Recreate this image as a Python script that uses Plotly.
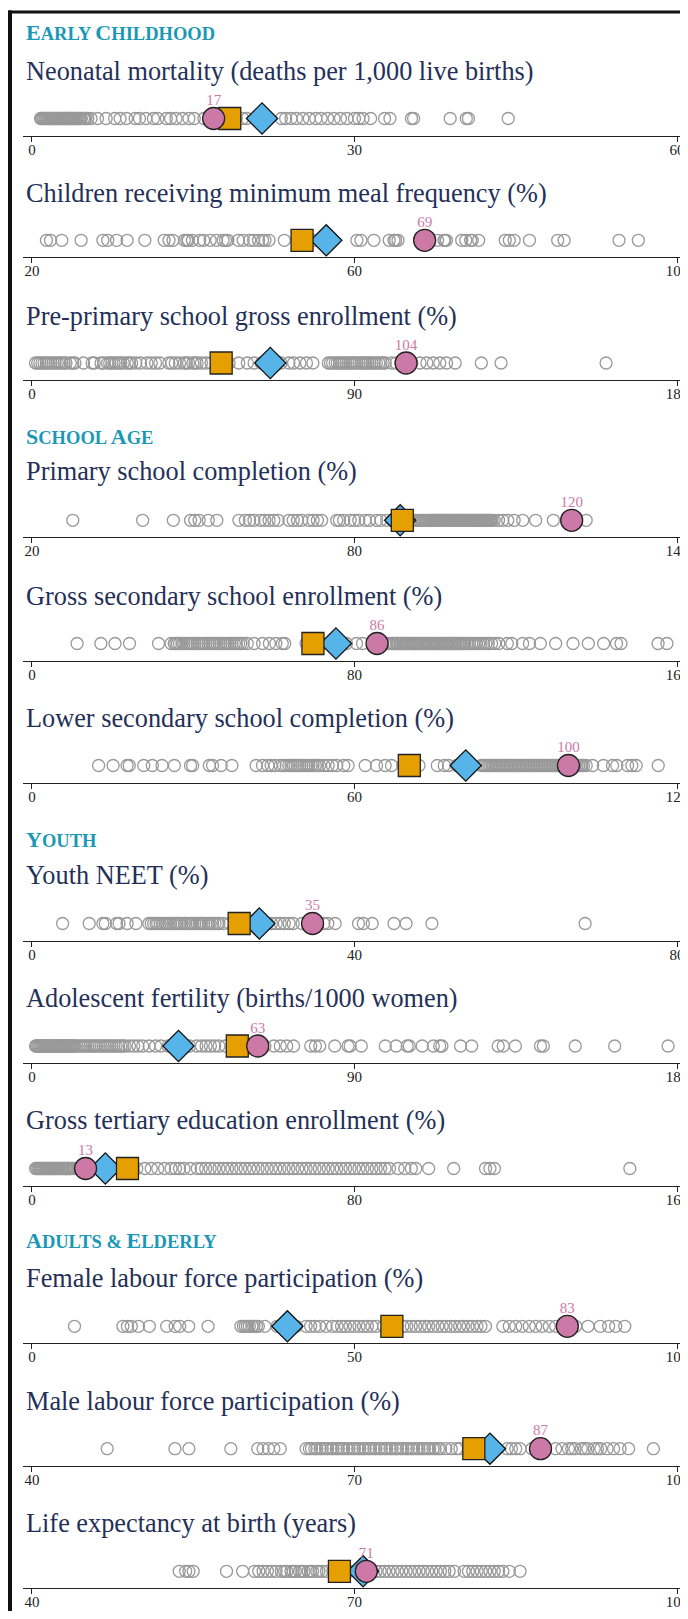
import plotly.graph_objects as go

W, H = 680, 1603

# ---------------- data ----------------
titles = [
    "Neonatal mortality (deaths per 1,000 live births)",
    "Children receiving minimum meal frequency (%)",
    "Pre-primary school gross enrollment (%)",
    "Primary school completion (%)",
    "Gross secondary school enrollment (%)",
    "Lower secondary school completion (%)",
    "Youth NEET (%)",
    "Adolescent fertility (births/1000 women)",
    "Gross tertiary education enrollment (%)",
    "Female labour force participation (%)",
    "Male labour force participation (%)",
    "Life expectancy at birth (years)",
]
sections = ["EARLY CHILDHOOD", "SCHOOL AGE", "YOUTH", "ADULTS & ELDERLY"]

axis_min = [0, 20, 0, 20, 0, 0, 0, 0, 0, 0, 40, 40]
axis_max = [60, 100, 180, 140, 160, 120, 80, 180, 160, 100, 100, 100]

neonatal = [0.8, 0.9, 1.0, 1.1, 1.2, 1.3, 1.4, 1.5, 1.6, 1.7, 1.8, 1.9, 2.0, 2.1, 2.2, 2.3, 2.4, 2.5, 2.6, 2.7,
            2.8, 2.9, 3.0, 3.1, 3.2, 3.3, 3.4, 3.5, 3.6, 3.7, 3.8, 3.9, 4.0, 4.1, 4.2, 4.3, 4.4, 4.5, 4.6, 4.8,
            4.9, 5.0, 5.2, 5.5, 6.1, 6.9, 7.7, 8.2, 8.8, 9.6, 10.0, 10.6, 11.3, 11.7, 12.5, 12.9,
            13.4, 14.0, 14.6, 15.1, 16.0, 17.5, 18.2, 19.0, 19.6, 20.0, 22.0, 23.2, 23.6, 24.1, 24.6, 25.2, 25.8,
            26.4, 26.9, 27.5, 28.1, 28.7, 29.3, 30.0, 30.4, 30.8, 31.5, 32.8, 33.3, 35.3, 35.5, 38.9, 40.4, 40.6, 44.3]
meal = [21.8, 22.3, 23.7, 26.1, 28.8, 29.4, 30.5, 31.8, 34.0, 36.4, 37.0, 37.5, 38.9, 39.2, 39.4, 39.9, 40.8,
        41.3, 42.1, 42.9, 43.7, 44.0, 44.3, 45.6, 46.2, 47.0, 47.5, 48.1, 48.6, 48.9, 49.4, 51.3, 53.0, 55.0,
        60.3, 60.8, 62.4, 64.3, 64.9, 65.1, 65.4, 70.3, 71.1, 71.2, 71.4, 73.3, 73.8, 74.4, 74.6, 75.4, 78.7,
        79.2, 79.8, 81.7, 85.2, 86.0, 92.8, 95.2]
preprimary = [1.0, 1.6, 2.2, 2.8, 3.4, 4.0, 4.6, 5.3, 5.9, 6.5, 7.1, 7.7, 8.3, 9.0, 9.5, 10.7, 11.4, 12.0, 14.4,
              16.8, 17.4, 19.3, 20.0, 21.1, 21.7, 22.3, 22.9, 23.5, 24.2, 24.8, 25.5, 26.6, 27.2, 27.8, 29.0, 30.3,
              32.1, 33.3, 34.5, 35.7, 38.2, 39.0, 40.0, 41.2, 42.5, 43.1, 43.7, 44.9, 45.5, 46.1, 47.3, 48.6, 50.0,
              55.0, 57.7, 60.1, 62.0, 64.0, 69.5, 71.7, 73.0, 74.8, 76.6, 78.4, 82.7, 83.3, 83.9, 84.6, 85.2, 85.8,
              86.4, 87.0, 87.6, 88.2, 88.8, 89.4, 90.0, 90.6, 91.3, 92.0, 92.5, 93.1, 93.7, 94.3, 94.9, 95.5, 96.1,
              96.8, 97.4, 98.0, 98.6, 100.4, 101.6, 103.0, 106.0, 108.3, 110.2, 112.0, 113.8, 115.7, 118.1, 125.4,
              130.9, 160.2]
primary = [27.6, 40.6, 46.3, 49.5, 50.3, 51.1, 52.8, 54.4, 58.5, 59.7, 60.5, 61.3, 62.5, 63.3, 64.1, 65.0, 65.8,
           67.8, 68.6, 69.4, 70.2, 71.5, 72.3, 73.1, 73.9, 76.7, 77.2, 78.0, 79.2, 80.0, 80.8, 82.0, 82.8, 84.1,
           84.9, 86.0, 87.0, 88.0, 89.5, 90.3, 90.6, 91.0, 91.3, 91.6, 91.9, 92.2, 92.5, 92.8, 93.1, 93.4, 93.7,
           94.0, 94.3, 94.6, 94.8, 95.0, 95.2, 95.4, 95.6, 95.8, 96.0, 96.3, 96.5, 96.7, 96.9, 97.1, 97.3, 97.5,
           97.7, 97.9, 98.1, 98.3, 98.5, 98.7, 98.9, 99.1, 99.3, 99.5, 99.7, 99.9, 100.1, 100.3, 100.5, 100.7,
           100.9, 101.1, 101.3, 101.5, 101.7, 101.9, 102.1, 102.3, 102.5, 102.8, 103.0, 103.2, 103.4, 103.6,
           103.8, 104.0, 104.2, 104.4, 104.6, 104.8, 105.0, 105.2, 105.4, 105.6, 106.0, 106.8, 107.6, 108.5,
           109.7, 111.3, 113.7, 117.0, 123.1]
secondary = [11.2, 17.1, 20.6, 24.2, 31.4, 34.5, 35.3, 35.7, 36.1, 36.6, 37.2, 37.7, 38.3, 38.8, 39.3, 39.8, 40.4,
             41.0, 41.5, 42.1, 42.6, 43.1, 43.7, 44.2, 44.8, 45.3, 45.9, 46.4, 46.9, 47.5, 48.0, 48.5, 49.1, 49.6,
             50.2, 50.7, 51.3, 51.8, 52.4, 53.4, 55.1, 57.2, 58.9, 60.5, 62.1, 62.7, 68.0, 72.0, 78.0, 80.5, 82.0,
             88.1, 88.6, 89.2, 89.5, 89.8, 90.3, 90.6, 90.9, 91.4, 91.7, 92.0, 92.5, 92.8, 93.1, 93.6, 93.9, 94.2,
             94.7, 95.0, 95.3, 95.8, 96.1, 96.4, 96.9, 97.2, 97.5, 98.0, 98.3, 98.6, 99.1, 99.4, 99.7, 100.2,
             100.5, 100.8, 101.3, 101.6, 101.9, 102.4, 102.7, 103.0, 103.5, 103.8, 104.1, 104.6, 104.9, 105.2,
             105.7, 106.0, 106.3, 106.8, 107.1, 107.4, 108.0, 108.5, 109.1, 109.6, 110.2, 110.8, 111.4, 112.0,
             112.6, 113.2, 114.0, 114.8, 115.8, 117.9, 119.0, 121.7, 123.4, 126.1, 129.9, 134.2, 138.0, 141.8,
             145.0, 146.1, 155.3, 157.5]
lower_sec = [12.4, 15.1, 17.7, 18.1, 20.8, 22.4, 24.2, 26.5, 29.5, 29.9, 33.0, 33.6, 35.2, 37.2, 41.7, 42.9, 43.9,
             44.5, 45.2, 46.2, 46.8, 47.3, 47.8, 48.2, 48.6, 49.0, 49.4, 49.8, 50.2, 50.6, 51.1, 51.5, 51.9, 52.3,
             52.7, 53.1, 53.5, 54.3, 55.1, 55.9, 56.7, 58.0, 58.8, 62.0, 64.1, 65.7, 66.9, 69.0, 72.0, 75.4, 76.7,
             77.5, 79.0, 81.5, 83.6, 84.0, 84.3, 84.7, 85.0, 85.3, 85.6, 85.9, 86.2, 86.5, 86.8, 87.1, 87.4, 87.7,
             88.0, 88.3, 88.6, 88.9, 89.2, 89.5, 89.8, 90.1, 90.4, 90.7, 91.0, 91.3, 91.6, 91.9, 92.2, 92.5, 92.8,
             93.1, 93.4, 93.7, 94.0, 94.3, 94.6, 94.9, 95.2, 95.5, 95.8, 96.1, 96.4, 96.7, 97.0, 97.3, 97.6, 97.9,
             98.2, 98.5, 98.8, 99.1, 99.4, 100.2, 100.5, 100.8, 101.1, 101.4, 101.7, 102.0, 102.3, 102.6, 103.1,
             104.3, 106.3, 108.0, 108.8, 110.8, 111.6, 112.4, 116.5]
neet = [3.8, 7.1, 8.8, 9.1, 10.5, 10.8, 11.8, 12.9, 14.5, 14.8, 15.1, 15.4, 15.6, 15.9, 16.2, 16.5, 16.7, 17.0,
        17.2, 17.5, 17.8, 18.0, 18.3, 18.6, 18.9, 19.1, 19.4, 19.7, 19.9, 20.2, 20.5, 20.8, 21.0, 21.3, 21.6,
        21.9, 22.1, 22.4, 22.7, 23.0, 23.2, 23.7, 24.5, 25.5, 27.0, 29.2, 29.7, 30.3, 30.8, 31.3, 31.9, 32.4,
        33.5, 36.2, 36.7, 37.6, 40.5, 41.1, 42.2, 44.9, 46.4, 49.6, 68.6]
fertility = [1.0, 1.3, 1.6, 1.9, 2.2, 2.5, 2.8, 3.1, 3.4, 3.7, 4.0, 4.3, 4.6, 4.9, 5.2, 5.5, 5.8, 6.2, 6.5, 6.8,
             7.1, 7.4, 7.7, 8.0, 8.3, 8.6, 8.9, 9.2, 9.5, 9.8, 10.1, 10.4, 10.7, 11.0, 11.3, 11.7, 12.0, 12.6, 13.2,
             13.8, 14.4, 15.0, 15.6, 16.2, 16.8, 17.4, 18.0, 18.7, 19.3, 19.9, 20.5, 21.1, 21.7, 22.3, 22.9, 23.5,
             24.2, 24.8, 25.4, 26.0, 27.2, 28.4, 29.6, 30.9, 32.7, 34.5, 36.0, 38.0, 44.0, 46.0, 47.3, 48.6, 49.8,
             51.0, 52.2, 54.0, 60.0, 65.0, 67.5, 69.3, 71.1, 73.0, 77.8, 79.1, 80.3, 84.5, 88.2, 88.8, 91.9, 98.6,
             101.6, 104.7, 105.3, 108.9, 112.0, 113.8, 114.4, 119.6, 122.7, 130.1, 131.5, 134.9, 141.9, 142.7,
             151.6, 162.6, 177.5]
tertiary = [0.9, 1.2, 1.5, 1.8, 2.0, 2.3, 2.5, 2.8, 3.0, 3.3, 3.6, 3.9, 4.1, 4.4, 4.6, 4.9, 5.2, 5.5, 5.7, 6.0,
            6.3, 6.6, 6.8, 7.1, 7.4, 7.7, 8.0, 8.3, 8.5, 8.8, 9.0, 9.3, 9.5, 10.0, 10.6, 11.5, 15.0, 17.0, 20.0,
            22.0, 26.0, 28.0, 29.6, 31.2, 32.9, 34.5, 35.6, 36.6, 37.7, 39.3, 41.0, 42.0, 43.1, 44.2, 45.3, 46.4,
            47.5, 48.5, 49.6, 50.7, 51.8, 52.9, 54.0, 55.0, 56.1, 57.2, 58.3, 59.4, 60.5, 61.5, 62.6, 63.7, 64.8,
            65.9, 67.0, 68.0, 69.1, 70.2, 71.3, 72.4, 73.5, 74.6, 75.6, 76.7, 77.8, 78.9, 80.0, 81.1, 82.1, 83.2,
            84.3, 85.4, 86.5, 87.6, 88.7, 90.8, 92.5, 94.1, 95.2, 98.4, 104.6, 112.5, 113.6, 114.7, 148.3]
female_lfp = [6.6, 14.1, 14.8, 15.4, 16.5, 18.2, 20.9, 22.2, 22.9, 24.3, 27.3, 32.4, 32.8, 33.1, 33.4, 33.7, 34.1,
              34.4, 34.8, 35.1, 36.1, 38.0, 41.0, 42.5, 43.2, 43.9, 44.6, 45.6, 46.6, 47.3, 48.0, 48.6, 49.3, 50.0,
              50.7, 51.4, 52.0, 52.7, 53.4, 54.5, 56.5, 57.5, 58.1, 58.8, 59.5, 60.2, 60.9, 61.5, 62.2, 62.9, 63.6,
              64.2, 64.9, 65.6, 66.3, 66.9, 67.6, 68.3, 69.0, 69.6, 70.3, 73.0, 74.0, 75.0, 76.0, 77.1, 78.1, 79.1,
              80.2, 81.2, 84.3, 86.2, 88.1, 89.4, 90.5, 91.9]
male_lfp = [47.0, 53.3, 54.6, 58.5, 61.0, 61.5, 62.0, 62.5, 63.1, 65.5, 65.8, 66.0, 66.3, 66.5, 66.8, 67.0, 67.3,
            67.5, 67.8, 68.0, 68.3, 68.5, 68.8, 69.0, 69.3, 69.5, 69.8, 70.0, 70.3, 70.5, 70.8, 71.0, 71.3, 71.5,
            71.8, 72.0, 72.3, 72.5, 72.8, 73.0, 73.3, 73.5, 73.8, 74.0, 74.3, 74.5, 74.8, 75.0, 75.3, 75.5, 75.8,
            76.0, 76.3, 76.5, 76.8, 77.0, 77.3, 77.5, 77.8, 78.0, 78.5, 79.0, 79.5, 79.8, 81.5, 82.0, 84.2, 84.6,
            85.0, 85.4, 86.5, 88.7, 89.3, 89.9, 90.2, 90.5, 91.1, 91.4, 91.7, 92.3, 92.6, 92.9, 93.5, 94.1, 94.7,
            95.5, 97.8]
life_exp = [53.7, 54.3, 54.6, 55.0, 58.1, 59.6, 60.7, 61.1, 61.5, 61.9, 62.3, 62.7, 63.2, 63.5, 63.7, 64.1, 64.3,
            64.5, 64.9, 65.1, 65.3, 65.7, 65.9, 66.1, 66.5, 66.7, 67.0, 67.4, 68.0, 69.5, 70.3, 72.0, 72.4, 72.8,
            73.2, 73.6, 74.0, 74.4, 74.8, 75.2, 75.6, 76.0, 76.4, 76.8, 77.2, 77.6, 78.0, 78.4, 78.8, 79.3, 80.2,
            80.6, 81.0, 81.4, 81.8, 82.2, 82.6, 83.0, 83.4, 83.8, 84.4, 85.4]

all_countries = [neonatal, meal, preprimary, primary, secondary, lower_sec, neet, fertility, tertiary,
                 female_lfp, male_lfp, life_exp]

country_value = [16.9, 68.7, 104.4, 120.4, 85.6, 99.8, 34.8, 63.0, 13.3, 83.0, 87.3, 71.1]
square_value = [18.4, 53.5, 52.8, 88.9, 69.7, 70.2, 25.7, 57.3, 23.7, 55.8, 81.1, 68.6]
diamond_value = [21.4, 56.5, 66.5, 88.5, 75.4, 80.7, 28.2, 40.9, 18.2, 39.6, 82.6, 70.8]

# ---------------- layout geometry (screen pixels, page has an 8px body margin) ----------------
OFF = 8
axis_y = [135.5, 257.3, 380, 537.3, 660.5, 782.5, 940.5, 1063, 1185.5, 1343.3, 1465.7, 1588.3]
title_y = [71.7, 193, 316.7, 471.7, 596.7, 718, 875, 998, 1120.7, 1278.3, 1401.7, 1523.3]
section_y = [32, 436, 840, 1240]
X_MIN_PX, X_MAX_PX, LINE_START_PX = 32 - OFF, 679 - OFF, 23.3 - OFF
TEXT_X = 24 - OFF
MARK_H = 17      # marker centre above axis line (px)
LABEL_H = 34     # label centre above axis line (px)
PANEL_H = 50

SERIF = "Liberation Serif, Times New Roman, serif"
GRAY = "#999999"
PINK = "#cc79a7"
ORANGE = "#e69f00"
BLUE = "#56b4e9"
NAVY = "#243058"
TEAL = "#1b98b5"


def py(px):
    return 1 - (px - OFF) / H


fig = go.Figure()
layout = dict(
    width=W, height=H, margin=dict(l=0, r=0, t=0, b=0),
    paper_bgcolor="white", plot_bgcolor="rgba(0,0,0,0)", showlegend=False,
    annotations=[], shapes=[],
)

for i in range(12):
    n = i + 1
    xa = "x" if n == 1 else f"x{n}"
    ya = "y" if n == 1 else f"y{n}"
    vmin, vmax = axis_min[i], axis_max[i]
    upp = (vmax - vmin) / (X_MAX_PX - X_MIN_PX)
    rng = [vmin - (X_MIN_PX - LINE_START_PX) * upp, vmax + (W - X_MAX_PX) * upp]
    mid = (vmin + vmax) / 2
    ticks = [vmin, mid, vmax]

    layout[f"xaxis{'' if n == 1 else n}"] = dict(
        domain=[LINE_START_PX / W, 1], range=rng, anchor=ya,
        showline=True, linecolor="#222", linewidth=1.3,
        ticks="outside", ticklen=5, tickwidth=1, tickcolor="#222",
        ticklabelstandoff=-5, ticklabeloverflow="allow",
        tickvals=ticks, ticktext=[f"{t:g}" for t in ticks],
        tickfont=dict(family=SERIF, size=15, color="#222"),
        showgrid=False, zeroline=False, fixedrange=True,
    )
    layout[f"yaxis{'' if n == 1 else n}"] = dict(
        domain=[py(axis_y[i]), py(axis_y[i] - PANEL_H)], range=[0, PANEL_H],
        visible=False, fixedrange=True,
    )

    vals = all_countries[i]
    fig.add_trace(go.Scatter(
        x=vals, y=[MARK_H] * len(vals), xaxis=xa, yaxis=ya, mode="markers",
        marker=dict(symbol="circle-open", size=12, color=GRAY, line=dict(width=1.3, color=GRAY)),
        cliponaxis=False, hoverinfo="x",
    ))
    fig.add_trace(go.Scatter(
        x=[diamond_value[i]], y=[MARK_H], xaxis=xa, yaxis=ya, mode="markers",
        marker=dict(symbol="diamond", size=24, color=BLUE, line=dict(width=1.3, color="#111")),
        cliponaxis=False,
    ))
    fig.add_trace(go.Scatter(
        x=[square_value[i]], y=[MARK_H], xaxis=xa, yaxis=ya, mode="markers",
        marker=dict(symbol="square", size=22, color=ORANGE, line=dict(width=1.3, color="#222")),
        cliponaxis=False,
    ))
    fig.add_trace(go.Scatter(
        x=[country_value[i]], y=[MARK_H], xaxis=xa, yaxis=ya, mode="markers",
        marker=dict(symbol="circle", size=22, color=PINK, line=dict(width=1.3, color="#222")),
        cliponaxis=False,
    ))
    fig.add_trace(go.Scatter(
        x=[country_value[i]], y=[LABEL_H], xaxis=xa, yaxis=ya, mode="text",
        text=[f"{country_value[i]:.0f}"], textposition="middle center",
        textfont=dict(family=SERIF, size=15, color=PINK), cliponaxis=False, hoverinfo="skip",
    ))

    layout["annotations"].append(dict(
        text=titles[i], x=TEXT_X / W, y=py(title_y[i]), xref="paper", yref="paper",
        xanchor="left", yanchor="middle", showarrow=False,
        font=dict(family=SERIF, size=26.3, color=NAVY),
    ))


def small_caps(txt, big=22):
    out = []
    for word in txt.split(" "):
        if word[0].isalpha():
            out.append(f"<span style='font-size:{big}px'>{word[0]}</span>{word[1:]}")
        else:
            out.append(word)
    return " ".join(out)


for s, sy in zip(sections, section_y):
    layout["annotations"].append(dict(
        text="<b>" + small_caps(s) + "</b>", x=TEXT_X / W, y=py(sy), xref="paper", yref="paper",
        xanchor="left", yanchor="middle", showarrow=False,
        font=dict(family=SERIF, size=18.5, color=TEAL),
    ))

# frame lines (screen px -> figure px)
layout["shapes"] += [
    dict(type="line", xref="paper", yref="paper", x0=0, x1=1, y0=py(12), y1=py(12),
         line=dict(color="#111", width=3)),
    dict(type="line", xref="paper", yref="paper", x0=2 / W, x1=2 / W, y0=py(10.5), y1=0,
         line=dict(color="#111", width=4)),
]

fig.update_layout(**layout)
fig.write_html("out.html")
